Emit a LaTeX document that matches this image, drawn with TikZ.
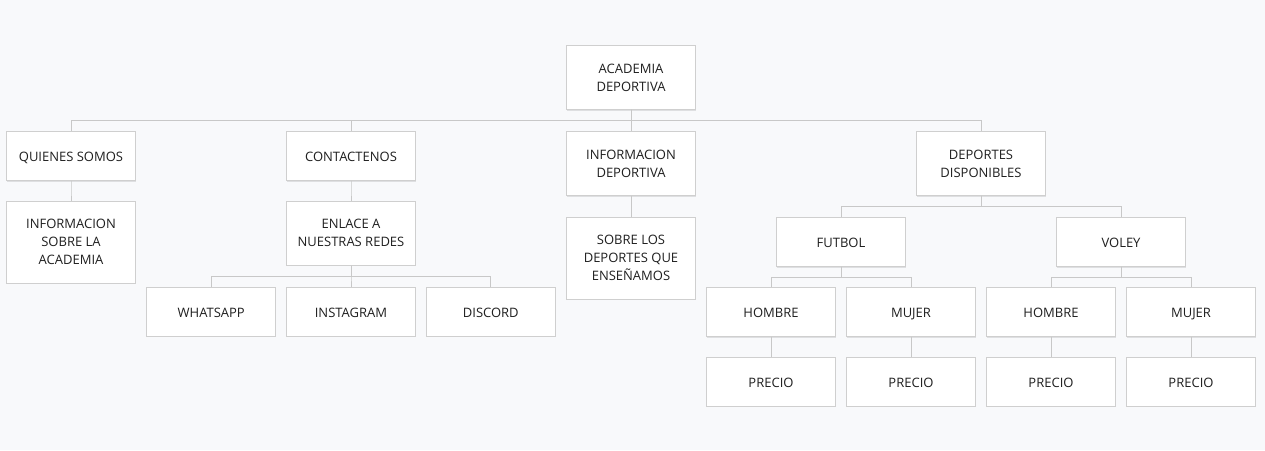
\documentclass[tikz,border=0pt]{standalone}
\usepackage{fontspec}
\setmainfont{Open Sans}
\usetikzlibrary{positioning, shadows}
\definecolor{pagebg}{HTML}{F8F9FB}
\definecolor{boxline}{HTML}{CFCFCF}
\definecolor{linkline}{HTML}{C8C8C8}
\tikzset{
    box/.style={draw=boxline, fill=white, line width=0.8pt, % plain white card
        minimum width=129pt, minimum height=49pt, inner sep=2pt,
        text height=12.5pt, text depth=1.3pt,
        align=center, text=black!88, font=\fontsize{13}{18}\selectfont,
        drop shadow={shadow xshift=0.6pt, shadow yshift=-1.2pt, opacity=0.10, fill=black}},
    tall/.style={box, minimum height=64pt, text height=, text depth=}, % two lines of text
    taller/.style={box, minimum height=82pt, text height=, text depth=}, % three lines of text
    treelink/.style={to path={(\tikztostart) -- ++(0,-10.5pt) -| (\tikztotarget)}}, % elbow connector
    node distance=20pt,
}
\begin{document}
\begin{tikzpicture}[x=1pt, y=-1pt]
    \fill[pagebg] (0,0) rectangle (1265,450);
    \useasboundingbox (0,0) rectangle (1265,450);
    % top
    \node[tall] (academia) at (631,77.5) {ACADEMIA\\DEPORTIVA};
    % first level
    \node[box, anchor=north] (quienes) at (71,131) {QUIENES SOMOS};
    \node[box, anchor=north] (contacto) at (351,131) {CONTACTENOS};
    \node[tall, anchor=north] (infodep) at (631,131) {INFORMACION\\DEPORTIVA};
    \node[tall, anchor=north] (deportes) at (981,131) {DEPORTES\\DISPONIBLES};
    % below the first level
    \node[taller, below=of quienes] (sobreacad) {INFORMACION\\SOBRE LA\\ACADEMIA};
    \node[tall, below=of contacto] (enlace) {ENLACE A\\NUESTRAS REDES};
    \node[box, below=21pt of enlace] (instagram) {INSTAGRAM};
    \node[box, left=10pt of instagram] (whatsapp) {WHATSAPP};
    \node[box, right=10pt of instagram] (discord) {DISCORD};
    \node[taller, below=21pt of infodep] (sobredep) {SOBRE LOS\\DEPORTES QUE\\ENSEÑAMOS};
    % sports
    \node[box, anchor=north] (futbol) at (841,217) {FUTBOL};
    \node[box, anchor=north] (voley) at (1121,217) {VOLEY};
    \node[box, anchor=north] (fhombre) at (771,287) {HOMBRE};
    \node[box, anchor=north] (fmujer) at (911,287) {MUJER};
    \node[box, anchor=north] (vhombre) at (1051,287) {HOMBRE};
    \node[box, anchor=north] (vmujer) at (1191,287) {MUJER};
    \node[box, below=of fhombre] (fhprecio) {PRECIO};
    \node[box, below=of fmujer] (fmprecio) {PRECIO};
    \node[box, below=of vhombre] (vhprecio) {PRECIO};
    \node[box, below=of vmujer] (vmprecio) {PRECIO};
    \draw[linkline, line width=0.8pt]
    (academia.south) edge[treelink] (quienes.north)
    (academia.south) edge[treelink] (contacto.north)
    (academia.south) edge[treelink] (infodep.north)
    (academia.south) edge[treelink] (deportes.north)
    (quienes.south) edge[treelink] (sobreacad.north)
    (contacto.south) edge[treelink] (enlace.north)
    (enlace.south) edge[treelink] (whatsapp.north)
    (enlace.south) edge[treelink] (instagram.north)
    (enlace.south) edge[treelink] (discord.north)
    (infodep.south) edge[treelink] (sobredep.north)
    (deportes.south) edge[treelink] (futbol.north)
    (deportes.south) edge[treelink] (voley.north)
    (futbol.south) edge[treelink] (fhombre.north)
    (futbol.south) edge[treelink] (fmujer.north)
    (voley.south) edge[treelink] (vhombre.north)
    (voley.south) edge[treelink] (vmujer.north)
    (fhombre.south) edge[treelink] (fhprecio.north)
    (fmujer.south) edge[treelink] (fmprecio.north)
    (vhombre.south) edge[treelink] (vhprecio.north)
    (vmujer.south) edge[treelink] (vmprecio.north);
\end{tikzpicture}
\end{document}
